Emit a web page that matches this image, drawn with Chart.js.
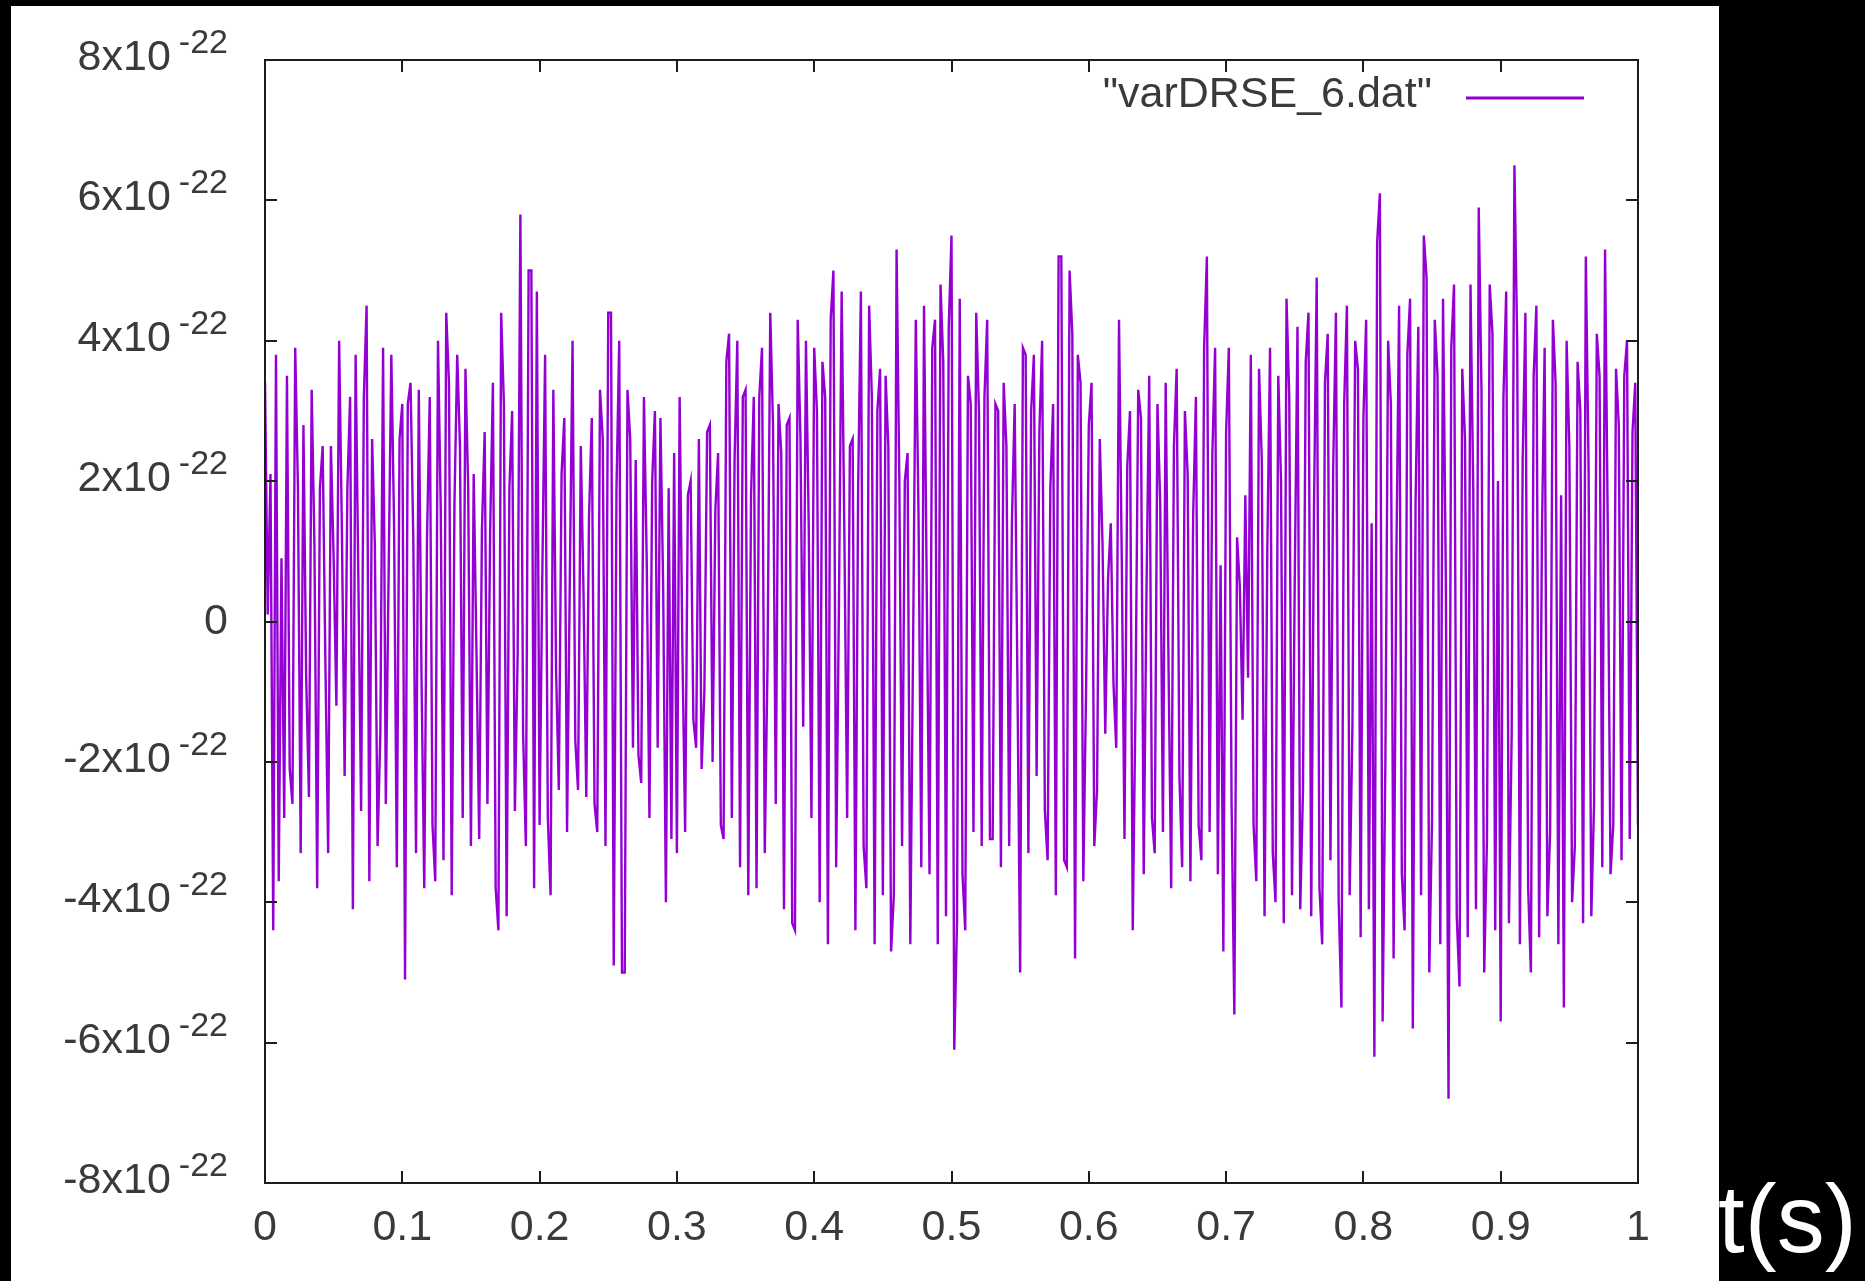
<!DOCTYPE html>
<html>
<head>
<meta charset="utf-8">
<title>varDRSE_6</title>
<script src="https://cdn.jsdelivr.net/npm/chart.js@4.4.1/dist/chart.umd.min.js"></script>
<style>
  html, body { margin: 0; padding: 0; background: #000; width: 1865px; height: 1281px; overflow: hidden; }
  #panel { position: absolute; left: 11px; top: 6px; width: 1708px; height: 1275px; background: #fff; }
  #unit { position: absolute; left: 1718px; top: 1171px; color: #fff; font-family: "Liberation Sans", Arial, sans-serif; font-size: 96px; line-height: 96px; }
</style>
</head>
<body>
<div id="panel"><canvas id="chart"></canvas></div>
<div id="unit">t(s)</div>
<script>
// Series label as it appears in the gnuplot key
const seriesLabel = '"varDRSE_6.dat"';

// time axis (s)
const tStart = 0;
const tEnd = 1;
const xTicks = [0, 0.1, 0.2, 0.3, 0.4, 0.5, 0.6, 0.7, 0.8, 0.9, 1];

// y axis in units of 10^-22
const yExponent = '-22';
const yTicks = [-8, -6, -4, -2, 0, 2, 4, 6, 8];

// signal values (x 1e-22), one per sample
const strain = [
  // 0.0 - 0.1
  3.4, 0.1, 2.1, -4.4, 3.8, -3.7, 0.9, -2.8, 3.5, -2.1,
  -2.6, 3.9, 1.9, -3.3, 2.8, -0.8, -2.5, 3.3, 1.1, -3.8,
  1.9, 2.5, -0.6, -3.3, 2.5, 0.9, -1.2, 4.0, 1.3, -2.2,
  1.9, 3.2, -4.1, 3.8, 0.6, -2.7, 3.2, 4.5, -3.7, 2.6,
  1.1, -3.2, -1.6, 3.9, -2.6, 0.6, 3.8, 1.4, -3.5, 2.6,
  // 0.1 - 0.2
  3.1, -5.1, 3.1, 3.4, 1.2, -3.3, 3.3, -0.8, -3.8, 1.2,
  3.2, -2.9, -3.7, 4.0, 1.6, -3.4, 4.4, 3.4, -3.9, 1.7,
  3.8, 2.5, -2.8, 3.6, 1.9, -3.2, 2.1, -0.4, -3.1, 1.3,
  2.7, -2.6, 1.3, 3.4, -3.8, -4.4, 4.4, 3.1, -4.2, 1.9,
  3.0, -2.7, -0.5, 5.8, -1.6, -3.2, 5.0, 5.0, -3.8, 4.7,
  // 0.2 - 0.3
  -2.9, 0.7, 3.8, -2.8, -3.9, 3.3, -0.7, -2.4, 2.1, 2.9,
  -3.0, 0.6, 4.0, -1.7, -2.4, 2.5, 0.4, -2.5, 1.5, 2.9,
  -2.6, -3.0, 3.3, 2.6, -3.2, 4.4, 4.4, -4.9, 1.9, 4.0,
  -5.0, -5.0, 3.3, 2.6, -1.8, 2.3, -1.9, -2.3, 3.2, 0.9,
  -2.8, 2.0, 3.0, -1.8, 2.9, 0.5, -4.0, 1.9, -3.1, 2.4,
  // 0.3 - 0.4
  -3.3, 3.2, -0.4, -3.0, 1.8, 2.0, -1.4, -1.8, 2.6, -2.1,
  -1.0, 2.7, 2.8, -2.0, 1.6, 2.4, -2.9, -3.1, 3.7, 4.1,
  -2.8, 2.3, 4.0, -3.5, 3.2, 3.3, -3.9, 1.8, 3.2, -3.8,
  3.2, 3.9, -3.3, -0.6, 4.4, 2.8, -2.6, 3.1, 2.4, -4.1,
  2.8, 2.9, -4.3, -4.4, 4.3, 2.6, -1.5, 4.0, 1.4, -2.8,
  // 0.4 - 0.5
  3.9, 3.0, -4.0, 3.7, 3.2, -4.6, 4.3, 5.0, -3.5, 0.2,
  4.7, 1.2, -2.8, 2.5, 2.6, -4.4, 1.9, 4.7, -3.2, -3.8,
  4.5, 3.2, -4.6, 3.0, 3.6, -3.9, 3.5, 2.5, -4.7, -3.9,
  5.3, 2.0, -3.2, 2.0, 2.4, -4.6, -0.4, 4.3, 1.5, -3.5,
  4.5, 0.4, -3.6, 3.9, 4.3, -4.6, 4.8, 3.7, -4.2, 4.2,
  // 0.5 - 0.6
  5.5, -6.1, -4.3, 4.6, -3.6, -4.4, 3.5, 3.1, -3.0, 4.4,
  3.0, -3.2, 3.2, 4.3, -3.1, -3.1, 3.1, 3.0, -3.5, 3.4,
  2.5, -3.2, 1.4, 3.1, -0.8, -5.0, 3.9, 3.8, -3.3, 3.0,
  3.8, -2.2, 2.7, 4.0, -2.7, -3.4, 1.9, 3.1, -3.9, 5.2,
  5.2, -3.4, -3.5, 5.0, 4.1, -4.8, 3.8, 3.4, -3.7, -1.0,
  // 0.6 - 0.7
  2.8, 3.4, -3.2, -2.4, 2.6, 1.1, -1.6, 0.6, 1.4, -0.9,
  -1.8, 4.3, 0.9, -3.1, 2.2, 3.0, -4.4, -1.2, 3.3, 2.9,
  -3.6, 0.4, 3.5, -2.8, -3.3, 3.1, 1.7, -3.0, 3.4, -0.5,
  -3.8, 2.5, 3.6, -2.2, -3.5, 3.0, 2.1, -3.7, 1.5, 3.2,
  -2.9, -3.4, 3.9, 5.2, -3.0, 2.4, 3.9, -3.6, 0.8, -4.7,
  // 0.7 - 0.8
  2.7, 3.9, -2.6, -5.6, 1.2, 0.5, -1.4, 1.8, -0.8, 3.8,
  -2.9, -3.7, 3.6, 2.3, -4.2, 1.0, 3.9, -3.3, -4.0, 3.5,
  2.0, -4.3, 4.6, 3.2, -3.9, 0.6, 4.2, -4.1, -2.4, 3.7,
  4.4, -4.2, 1.6, 4.9, -3.8, -4.6, 3.4, 4.1, -3.4, 2.2,
  4.4, -4.0, -5.5, 3.1, 4.5, -3.9, -1.5, 4.0, 3.6, -4.5,
  // 0.8 - 0.9
  2.9, 4.3, -4.1, 1.4, -6.2, 5.4, 6.1, -5.7, -2.0, 4.0,
  3.1, -4.8, 0.9, 4.5, -3.6, -4.4, 3.8, 4.6, -5.8, 1.7,
  4.2, -3.9, 5.5, 4.9, -5.0, -2.8, 4.3, 3.5, -4.6, 4.6,
  0.7, -6.8, 3.9, 4.8, -4.2, -5.2, 3.6, 2.6, -4.5, 4.8,
  1.9, -4.1, 5.9, 3.3, -5.0, -3.1, 4.8, 4.1, -4.4, 2.0,
  // 0.9 - 1.0
  -5.7, 3.2, 4.7, -4.3, -1.6, 6.5, 4.0, -4.6, 2.3, 4.4,
  -3.8, -5.0, 3.5, 4.5, -4.5, 1.2, 3.9, -4.2, -3.0, 4.3,
  3.4, -4.6, 1.8, -5.5, 4.0, 2.5, -4.0, -3.2, 3.7, 3.0,
  -4.3, 5.2, 2.2, -4.2, -2.6, 4.1, 3.5, -3.5, 5.3, 1.3,
  -3.6, -2.9, 3.6, 2.8, -3.4, 3.5, 4.0, -3.1, 2.7, 3.4,
  -2.9
];

const fontFamily = '"Liberation Sans", Arial, sans-serif';
const textColor = '#3a3a3a';
const lineColor = '#9400d3';
const tickLen = 12;

// gnuplot-like border, inward ticks on all four sides, y labels with exponents and the key
const gnuplotFrame = {
  id: 'gnuplotFrame',
  afterDraw(chart) {
    const { ctx, chartArea: a, scales: { x, y } } = chart;
    ctx.save();

    ctx.strokeStyle = '#1c1c1c';
    ctx.lineWidth = 2;
    ctx.strokeRect(a.left, a.top, a.right - a.left, a.bottom - a.top);

    ctx.beginPath();
    x.ticks.forEach(t => {
      const px = Math.round(x.getPixelForValue(t.value));
      ctx.moveTo(px, a.bottom);
      ctx.lineTo(px, a.bottom - tickLen);
      ctx.moveTo(px, a.top);
      ctx.lineTo(px, a.top + tickLen);
    });
    y.ticks.forEach(t => {
      const py = Math.round(y.getPixelForValue(t.value));
      ctx.moveTo(a.left, py);
      ctx.lineTo(a.left + tickLen, py);
      ctx.moveTo(a.right, py);
      ctx.lineTo(a.right - tickLen, py);
    });
    ctx.stroke();

    // y tick labels: "Nx10" with a raised exponent
    ctx.fillStyle = textColor;
    ctx.textAlign = 'right';
    ctx.textBaseline = 'alphabetic';
    const right = a.left - 37;
    y.ticks.forEach(t => {
      const py = y.getPixelForValue(t.value);
      if (t.value === 0) {
        ctx.font = '43px ' + fontFamily;
        ctx.fillText('0', right, py + 12);
        return;
      }
      ctx.font = '34px ' + fontFamily;
      const ew = ctx.measureText(yExponent).width;
      ctx.fillText(yExponent, right, py - 7);
      ctx.font = '43px ' + fontFamily;
      ctx.fillText(t.value + 'x10', right - ew - 8, py + 10);
    });

    // key, top right inside the border
    const ds = chart.data.datasets[0];
    ctx.font = '43px ' + fontFamily;
    ctx.fillText(ds.label, a.right - 206, a.top + 47);
    ctx.strokeStyle = ds.borderColor;
    ctx.lineWidth = 3;
    ctx.beginPath();
    ctx.moveTo(a.right - 172, a.top + 38);
    ctx.lineTo(a.right - 54, a.top + 38);
    ctx.stroke();

    ctx.restore();
  }
};

const ctx = document.getElementById('chart').getContext('2d');
new Chart(ctx, {
  type: 'line',
  data: {
    datasets: [{
      label: seriesLabel,
      data: strain.map((v, i) => ({ x: tStart + (tEnd - tStart) * i / (strain.length - 1), y: v })),
      borderColor: lineColor,
      borderWidth: 2.4,
      pointRadius: 0,
      tension: 0,
      fill: false
    }]
  },
  options: {
    responsive: true,
    maintainAspectRatio: false,
    animation: false,
    layout: { padding: { top: 54, right: 81, left: 0, bottom: 0 } },
    plugins: {
      legend: { display: false },
      tooltip: { enabled: false }
    },
    scales: {
      x: {
        type: 'linear',
        min: xTicks[0],
        max: xTicks[xTicks.length - 1],
        afterBuildTicks(scale) { scale.ticks = xTicks.map(v => ({ value: v })); },
        ticks: {
          color: textColor,
          font: { family: fontFamily, size: 43 },
          padding: 11,
          maxRotation: 0,
          autoSkip: false,
          callback: v => String(v)
        },
        grid: { display: false },
        border: { display: false },
        afterFit(scale) { scale.height = 98; }
      },
      y: {
        min: yTicks[0],
        max: yTicks[yTicks.length - 1],
        afterBuildTicks(scale) { scale.ticks = yTicks.map(v => ({ value: v })); },
        ticks: { display: false },
        grid: { display: false },
        border: { display: false },
        afterFit(scale) { scale.width = 254; }
      }
    }
  },
  plugins: [gnuplotFrame]
});
</script>
</body>
</html>
